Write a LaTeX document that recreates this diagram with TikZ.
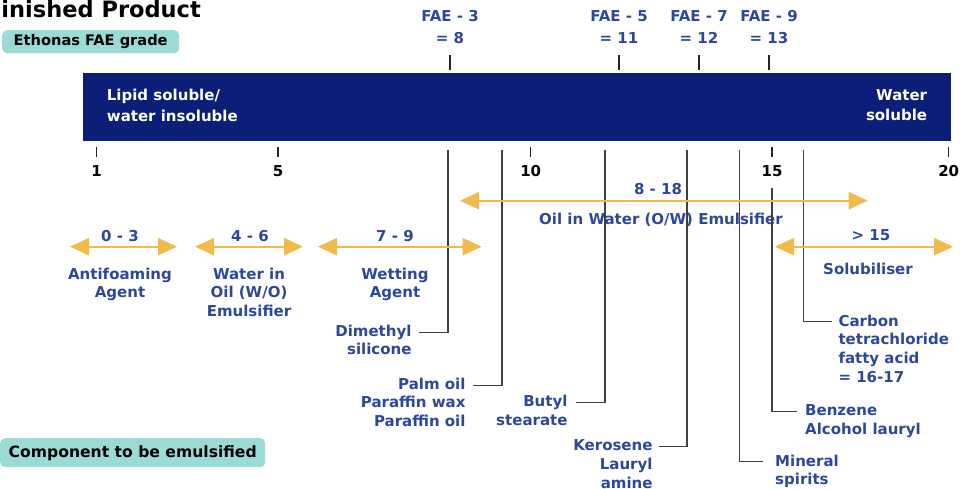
\documentclass[tikz,border=0pt]{standalone}
\usepackage{fontspec}
\setmainfont{DejaVu Sans}
\usetikzlibrary{arrows.meta}
\definecolor{barnavy}{RGB}{12,31,120}
\definecolor{lblue}{RGB}{44,72,158}
\definecolor{orng}{RGB}{242,185,75}
\definecolor{badgeteal}{RGB}{154,219,214}
\definecolor{conncol}{RGB}{64,64,64}
\begin{document}
\begin{tikzpicture}[x=1pt,y=-1pt,
  lbl/.style={font=\bfseries\fontsize{15}{18.7}\selectfont, text=lblue, inner sep=0pt, align=center},
  lblr/.style={lbl, align=right},
  lbll/.style={lbl, align=left},
  num/.style={font=\bfseries\fontsize{15}{19}\selectfont, text=black, inner sep=0pt},
  wtxt/.style={font=\bfseries\fontsize{15}{20.7}\selectfont, text=white, inner sep=0pt},
  rangearrow/.style={draw=orng, line width=2.2pt, {Triangle[length=19pt,width=17pt]}-{Triangle[length=19pt,width=17pt]}},
  conn/.style={draw=conncol, line width=1.5pt},
  tickmark/.style={draw=black!85, line width=1.1pt},
  badge/.style={fill=badgeteal, rounded corners=5pt, text=black, inner sep=0pt, minimum height=23pt}
]
\useasboundingbox (0,0) rectangle (964,489);

% title and badges
\node[font=\bfseries\fontsize{22.5}{24}\selectfont, inner sep=0pt, anchor=base east] (title) at (201,17.3) {Finished Product};
\node[badge, anchor=north west, minimum width=177pt, font=\bfseries\fontsize{14.6}{18}\selectfont] (grade) at (2,30) {Ethonas FAE grade};
\node[badge, anchor=north west, minimum width=265pt, minimum height=29pt, font=\bfseries\fontsize{15.6}{18}\selectfont] (comp) at (0,438) {Component to be emulsified};

% bar
\node[fill=barnavy, inner sep=0pt, anchor=north west, minimum width=868pt, minimum height=67.5pt] (bar) at (83,73.3) {};
\node[wtxt, align=left, anchor=north west] (lipid) at (106.7,89) {Lipid soluble/\\water insoluble};
\node[wtxt, align=right, anchor=north east] (water) at (927.3,89) {Water\\soluble};

% FAE labels and ticks
\foreach \n/\x/\a/\b in {f3/450/3/8, f5/619/5/11, f7/699/7/12, f9/769/9/13}{
  \node[lbl, anchor=base] (\n) at (\x,21.7) {FAE - \a};
  \node[lbl, anchor=base] (\n v) at (\x,43.3) {= \b};
  \coordinate (\n t) at (\x,55);
  \coordinate (\n b) at (\x,70);
  \draw[tickmark] (\n t) -- (\n b);
}

% scale
\foreach \n/\x in {1/96.7, 5/278, 10/530.7, 15/772, 20/948.7}{
  \node[num, anchor=base] (s\n) at (\x,176.5) {\n};
  \coordinate (s\n t) at (\x,147);
  \coordinate (s\n b) at (\x,157);
  \draw[tickmark] (s\n t) -- (s\n b);
}

% range labels
\node[lbl, anchor=base] (r03) at (120,242) {0 - 3};
\node[lbl, anchor=base] (r46) at (250,242) {4 - 6};
\node[lbl, anchor=base] (r79) at (395,242) {7 - 9};
\node[lbl, anchor=base] (r818) at (658,195) {8 - 18};
\node[lbl, anchor=base] (ow) at (661,225) {Oil in Water (O/W) Emulsifier};
\node[lbl, anchor=base] (r15) at (871,241) {> 15};
\node[lbl, anchor=base] (solub) at (868,274) {Solubiliser};

\node[lbl, anchor=north] (anti) at (120,267.5) {Antifoaming\\Agent};
\node[lbl, anchor=north] (wo) at (249,267.5) {Water in\\Oil (W/O)\\Emulsifier};
\node[lbl, anchor=north] (wet) at (395,267.5) {Wetting\\Agent};

% component labels
\node[lblr, anchor=north east] (dim) at (411.7,324.5) {Dimethyl\\silicone};
\node[lblr, anchor=north east] (palm) at (465.7,377.5) {Palm oil\\Paraffin wax\\Paraffin oil};
\node[lblr, anchor=north east] (butyl) at (567.7,395) {Butyl\\stearate};
\node[lblr, anchor=north east] (kero) at (652.7,439.5) {Kerosene\\Lauryl\\amine};
\node[lbll, anchor=north west] (mineral) at (775,454.5) {Mineral\\spirits};
\node[lbll, anchor=north west] (benz) at (805,404.5) {Benzene\\Alcohol lauryl};
\node[lbll, anchor=north west] (carbon) at (838.3,314.5) {Carbon\\tetrachloride\\fatty acid\\= 16-17};

% connectors
\coordinate (c1) at (448,150);
\coordinate (c2) at (502,150);
\coordinate (c3) at (605,150);
\coordinate (c4) at (687,150);
\coordinate (c5) at (739.3,150);
\coordinate (c6) at (772,188);
\coordinate (c7) at (803.3,150);
\draw[conn] (c1) |- ([xshift=7.6pt,yshift=-8.2pt]dim.north east);
\draw[conn] (c2) |- ([xshift=7.3pt,yshift=-8.2pt]palm.north east);
\draw[conn] (c3) |- ([xshift=8.3pt,yshift=-7.7pt]butyl.north east);
\draw[conn] (c4) |- ([xshift=6.3pt,yshift=-7.2pt]kero.north east);
\draw[conn] (c5) |- ([xshift=-11.7pt,yshift=-7.2pt]mineral.north west);
\draw[conn] (c6) |- ([xshift=-7.7pt,yshift=-7.2pt]benz.north west);
\draw[conn] (c7) |- ([xshift=-6.7pt,yshift=-7.2pt]carbon.north west);

% range arrows
\coordinate (a1) at (70,246.7);   \coordinate (a2) at (177,246.7);
\coordinate (b1) at (195,246.7);  \coordinate (b2) at (303,246.7);
\coordinate (d1) at (318,246.7);  \coordinate (d2) at (481.7,246.7);
\coordinate (e1) at (460,200.7);  \coordinate (e2) at (867.7,200.7);
\coordinate (g1) at (775,246.7);  \coordinate (g2) at (953,246.7);
\draw[rangearrow] (a1) -- (a2);
\draw[rangearrow] (b1) -- (b2);
\draw[rangearrow] (d1) -- (d2);
\draw[rangearrow] (e1) -- (e2);
\draw[rangearrow] (g1) -- (g2);
\end{tikzpicture}
\end{document}
